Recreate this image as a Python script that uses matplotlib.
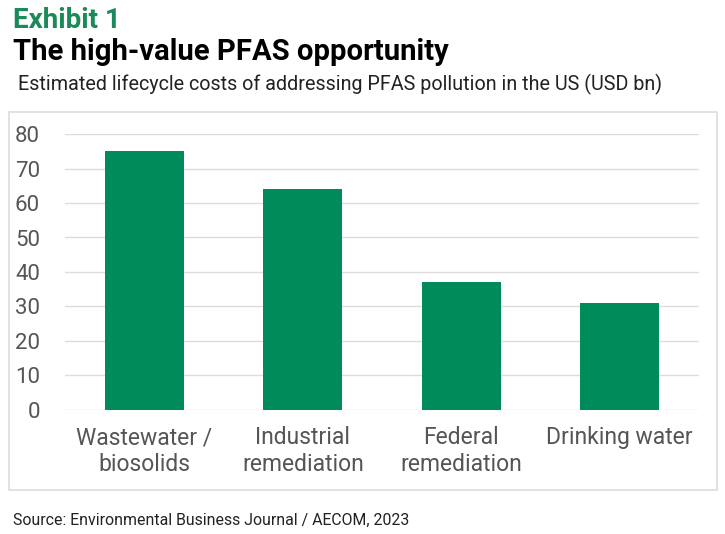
import matplotlib.pyplot as plt
from matplotlib.patches import Rectangle

categories = ["Wastewater /\nbiosolids", "Industrial\nremediation", "Federal\nremediation", "Drinking water"]
costs = [75, 64, 37, 31]
yticks = [0, 10, 20, 30, 40, 50, 60, 70, 80]

plt.rcParams['font.family'] = ['Roboto', 'DejaVu Sans']

fig = plt.figure(figsize=(7.25, 5.34), dpi=100)
W, H = 725, 534

# outer light frame around the chart
fig.patches.append(Rectangle((9 / W, 1 - 490 / H), (717 - 9) / W, (490 - 112) / H,
                             transform=fig.transFigure, fill=False,
                             edgecolor='#dddddd', linewidth=1.2))

ax = fig.add_axes([65 / W, 1 - 409.5 / H, (699 - 65) / W, (409.5 - 134.3) / H])
x = range(len(categories))
ax.bar(x, costs, width=0.5, color='#008C5A', zorder=3)
ax.set_xlim(-0.5, 3.5)
ax.set_ylim(0, 80)
ax.set_yticks(yticks)
ax.set_xticks(list(x))
ax.set_xticklabels(categories, fontsize=16.5, color='#555555', linespacing=1.2)
ax.tick_params(axis='y', labelsize=16, labelcolor='#555555', length=0, pad=18)
ax.tick_params(axis='x', length=0, pad=12)
ax.grid(axis='y', color='#dcdcdc', linewidth=1, zorder=0)
for s in ax.spines.values():
    s.set_visible(False)

fig.text(13 / W, 1 - 20 / H, "Exhibit 1", fontsize=20, fontweight='bold', color='#1B8A5A', va='center')
fig.text(13 / W, 1 - 52 / H, "The high-value PFAS opportunity", fontsize=21.1, fontweight='bold', color='black', va='center')
fig.text(18 / W, 1 - 84 / H, "Estimated lifecycle costs of addressing PFAS pollution in the US (USD bn)",
         fontsize=14.2, color='#222222', va='center')
fig.text(13 / W, 1 - 520 / H, "Source: Environmental Business Journal / AECOM, 2023",
         fontsize=11.4, color='#222222', va='center')

fig.savefig("out.png", dpi=100)
